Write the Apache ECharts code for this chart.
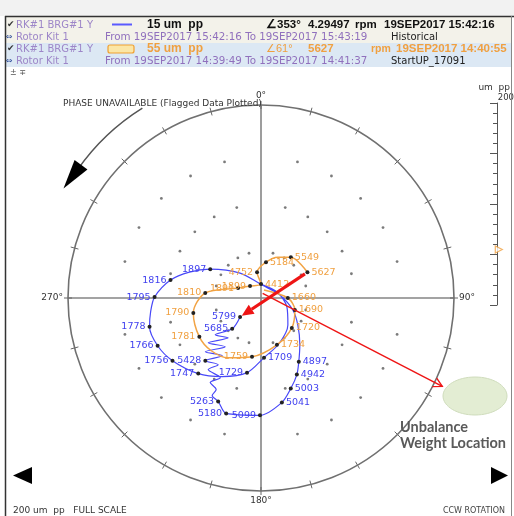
<!DOCTYPE html>
<html><head><meta charset="utf-8">
<script src="https://cdn.jsdelivr.net/npm/echarts@6/dist/echarts.min.js"></script>
<style>html,body{margin:0;padding:0;background:#fff}#c{width:514px;height:516px}</style>
</head><body><div id="c"></div>
<script>
// ---------------- data ----------------
const fullScale = 200;                       // um pp full scale
const angleTicks = [0, 90, 180, 270];
const gridRings = [48, 97, 146];
const gridAngles = [15,30,45,60,75,105,120,135,150,165,195,210,225,240,255,285,300,315,330,345];

// Historical (blue): amplitude um pp, phase deg, rpm label
const blueAmp   = [29.2,43.7,60.9,53.5,71.7,62.7,80.2,72.1,86.9,82.1,92.2,92.7,102.2,105.6,113.0,116.0,124.9,121.6,110.4,98.8,87.6,76.7,63.0,47.2,35.2,19.8,12.5,14.4,33.7,60.5,78.9,95.6,110.3,115.3,119.3,118.0,112.4,101.8,90.8,78.7,61.9,50.9,39.4,28.4,17.6,15];
const bluePhase = [227.9,223.1,231.2,219.5,229.7,216.3,226.0,213.9,221.6,212.7,216.4,207.1,211.0,206.1,206.6,202.5,196.8,180.5,168.7,161.8,154.9,149.3,140.3,126.1,110.6,81.0,24.4,358,320,299.6,289.9,281.2,270.5,262.8,255.5,245.2,234.7,219.7,206.3,190.6,177.1,158.6,135.0,109.1,69.4,353];
const blueRpm   = ['5799','5685','','','','','','','5428','','','','','','','5263','5180','5099','5041','5003','4942','4897','','','','','','','','1897','','1816','1795','','1778','1766','1756','1747','','1729','1709','','','','',''];

// StartUP (orange)
const orangeAmp   = [8.8,27.8,37.2,44.5,51.2,61.5,70.6,75.1,75.5,71.8,58.0,25.9,16.8,14.4,27.1,37.5,45.8,52.4,55];
const orangePhase = [20.6,90,109.4,134.1,161.2,188.7,208.8,223.3,237.8,257.6,275.1,293.5,317.5,0,351.3,7.9,22.5,36.2,61];
const orangeRpm   = ['','1660','1690','1720','1734','1759','','','1781','1790','1810','1891','1899','4412','4752','5184','','5549','5627'];

// annotation: unbalance direction (um, deg)
const unbalanceFrom = [5, 20];
const unbalanceTo   = [209, 116];

// ---------------- chart ----------------
const chart = echarts.init(document.getElementById('c'), null, {width:514, height:516});
const BLUE = '#4848f8', ORANGE = '#f2a445';
const FONT = 'DejaVu Sans';
const BFONT = 'Liberation Sans';

function pts(amp, ph, rpm, color) {
  return amp.map((a, i) => {
    const lab = rpm[i];
    const left = ph[i] > 178 && ph[i] < 359;
    return {
      value: [a, ph[i]],
      symbol: lab ? 'circle' : 'none',
      symbolSize: lab ? 4 : 0,
      label: {show: !!lab, formatter: lab, position: left ? 'left' : 'right', distance: 2,
              color: color, fontSize: 9.5, fontFamily: FONT}
    };
  });
}
const gridDots = [];
gridRings.forEach(r => gridAngles.forEach(a => gridDots.push([r, a])));

const polarCommon = {center: [261, 298], radius: 193};
const radiusCommon = {type: 'value', min: 0, max: fullScale, axisLine: {show: false}, axisTick: {show: false},
  axisLabel: {show: false}, splitLine: {show: false}};

chart.setOption({
  animation: false,
  polar: [Object.assign({}, polarCommon), Object.assign({}, polarCommon)],
  angleAxis: [{
    polarIndex: 0, type: 'value', min: 0, max: 360, interval: 90, startAngle: 90, clockwise: true,
    axisLine: {show: true, lineStyle: {color: '#707070', width: 1.6}},
    axisTick: {show: true, length: 4, lineStyle: {color: '#666'}},
    minorTick: {show: true, splitNumber: 6, length: 4, lineStyle: {color: '#666', width: 1}},
    axisLabel: {show: true, margin: 5, color: '#333', fontSize: 9, fontFamily: FONT,
      formatter: v => (angleTicks.indexOf(v) >= 0 ? v + '°' : '')},
    splitLine: {show: true, lineStyle: {color: '#858585', width: 1.6}}
  }, {
    polarIndex: 1, type: 'value', min: 0, max: 360, interval: 90, startAngle: 90, clockwise: true,
    axisLine: {show: false},
    axisTick: {show: true, inside: true, length: 4, lineStyle: {color: '#666'}},
    minorTick: {show: true, splitNumber: 6, length: 4, lineStyle: {color: '#666', width: 1}},
    axisLabel: {show: false}, splitLine: {show: false}
  }],
  radiusAxis: [Object.assign({polarIndex: 0}, radiusCommon), Object.assign({polarIndex: 1}, radiusCommon)],
  grid: {left: 497, top: 103, width: 12, height: 202},
  xAxis: {type: 'value', min: 0, max: 1, show: false},
  yAxis: {type: 'value', min: 0, max: fullScale, interval: 50, position: 'right',
    axisLine: {show: true, lineStyle: {color: '#555'}},
    axisTick: {show: true, inside: true, length: 7, lineStyle: {color: '#555'}},
    minorTick: {show: true, splitNumber: 5, length: 4, lineStyle: {color: '#555'}},
    axisLabel: {show: false}, splitLine: {show: false}},
  series: [
    {type: 'scatter', coordinateSystem: 'polar', polarIndex: 0, data: gridDots, symbolSize: 2.8,
     itemStyle: {color: '#5a5a5a'}, silent: true, z: 1},
    {type: 'line', coordinateSystem: 'polar', polarIndex: 0, data: pts(blueAmp, bluePhase, blueRpm, '#3f3fef'),
     smooth: 0.3, lineStyle: {color: BLUE, width: 1.2}, itemStyle: {color: '#222'}, z: 3},
    {type: 'line', coordinateSystem: 'polar', polarIndex: 0, data: pts(orangeAmp, orangePhase, orangeRpm, '#f0a040'),
     smooth: 0.3, lineStyle: {color: ORANGE, width: 1.5}, itemStyle: {color: '#222'}, z: 4},
    {type: 'scatter', xAxisIndex: 0, yAxisIndex: 0, data: [[0.15, orangeAmp[orangeAmp.length - 1]]],
     symbol: 'triangle', symbolRotate: -90, symbolSize: 7,
     itemStyle: {color: '#fff', borderColor: '#f0a040', borderWidth: 1.2}}
  ]
});

// ---------------- overlays ----------------
const px = d => chart.convertToPixel({seriesIndex: 0}, d);
const C = px([0, 0]);
const S = (px([fullScale, 90])[0] - C[0]) / fullScale;
const polar2px = (r, a) => [C[0] + r * S * Math.sin(a * Math.PI / 180), C[1] - r * S * Math.cos(a * Math.PI / 180)];

function T(x, y, text, font, fill, align) {
  return {type: 'text', x: x, y: y, z: 50, silent: true,
    style: {text: text, font: font, fill: fill, align: align || 'left', verticalAlign: 'middle',
            textAlign: align || 'left', textVerticalAlign: 'middle'}};
}
function arrowHead(p1, p2, len, ang) {
  const d = Math.atan2(p2[1] - p1[1], p2[0] - p1[0]);
  return [[p2[0] - len * Math.cos(d - ang), p2[1] - len * Math.sin(d - ang)], p2,
          [p2[0] - len * Math.cos(d + ang), p2[1] - len * Math.sin(d + ang)]];
}

const G = [];
// header backgrounds and frame
G.push({type: 'rect', shape: {x: 0, y: 0, width: 514, height: 16}, style: {fill: '#f2f2f2'}, z: 0});
G.push({type: 'rect', shape: {x: 6, y: 17, width: 506, height: 26}, style: {fill: '#f3f2ea'}, z: 0});
G.push({type: 'rect', shape: {x: 6, y: 43, width: 506, height: 24}, style: {fill: '#dce8f4'}, z: 0});
G.push({type: 'line', shape: {x1: 5, y1: 16.5, x2: 514, y2: 16.5}, style: {stroke: '#333', lineWidth: 1.5}, z: 60});
G.push({type: 'line', shape: {x1: 5.5, y1: 16, x2: 5.5, y2: 516}, style: {stroke: '#333', lineWidth: 1.5}, z: 60});
G.push({type: 'line', shape: {x1: 511.5, y1: 16, x2: 511.5, y2: 516}, style: {stroke: '#888', lineWidth: 1}, z: 60});

const PUR = '#9d86c8', PUR2 = '#9070bd';
const f10 = '10px "' + FONT + '"';
const b11 = 'bold 11.5px "' + BFONT + '"';
// row 1
G.push(T(7, 25, '✔', '9px "' + FONT + '"', '#333'));
G.push(T(16, 25, 'RK#1 BRG#1 Y', f10, PUR));
G.push({type: 'line', shape: {x1: 112, y1: 24.5, x2: 132, y2: 24.5}, style: {stroke: '#5a5aff', lineWidth: 2}, z: 50});
G.push(T(147, 25, '15 um  pp', 'bold 12px "' + BFONT + '"', '#111'));
G.push(T(266, 25, '∠353°', b11, '#111'));
G.push(T(308, 25, '4.29497', b11, '#111'));
G.push(T(355, 25, 'rpm', b11, '#111'));
G.push(T(384, 25, '19SEP2017 15:42:16', b11, '#111'));
// row 2
G.push(T(6, 37, '⇔', '8px "' + FONT + '"', '#2a4a9a'));
G.push(T(16, 37, 'Rotor Kit 1', f10, PUR));
G.push(T(105, 37, 'From 19SEP2017 15:42:16 To 19SEP2017 15:43:19', '10.3px "' + FONT + '"', PUR2));
G.push(T(391, 37, 'Historical', f10, '#222'));
// row 3
G.push(T(7, 49, '✔', '9px "' + FONT + '"', '#333'));
G.push(T(16, 49, 'RK#1 BRG#1 Y', f10, PUR));
G.push({type: 'rect', shape: {x: 108, y: 45, width: 26, height: 8, r: 2}, style: {fill: '#fbe6a6', stroke: '#f0a030', lineWidth: 1.2}, z: 50});
G.push(T(147, 49, '55 um  pp', 'bold 12px "' + BFONT + '"', '#f0a040'));
G.push(T(266, 49, '∠61°', '11px "' + BFONT + '"', '#f0a040'));
G.push(T(308, 49, '5627', b11, '#f0a040'));
G.push(T(371, 49, 'rpm', 'bold 10.5px "' + BFONT + '"', '#f0a040'));
G.push(T(396, 49, '19SEP2017 14:40:55', b11, '#f0a040'));
// row 4
G.push(T(6, 61, '⇔', '8px "' + FONT + '"', '#2a4a9a'));
G.push(T(16, 61, 'Rotor Kit 1', f10, PUR));
G.push(T(105, 61, 'From 19SEP2017 14:39:49 To 19SEP2017 14:41:37', '10.3px "' + FONT + '"', PUR2));
G.push(T(391, 61, 'StartUP_17091', f10, '#222'));
G.push(T(10, 73, '± ∓', '8px "' + FONT + '"', '#555'));

// plot texts
G.push(T(63, 104, 'PHASE UNAVAILABLE (Flagged Data Plotted)', '9px "' + FONT + '"', '#333'));
G.push(T(510, 88, 'um  pp', '9px "' + FONT + '"', '#333', 'right'));
G.push(T(514, 98, '200', '8.5px "' + FONT + '"', '#333', 'right'));
G.push(T(13, 511, '200 um  pp   FULL SCALE', '9px "' + FONT + '"', '#333'));
G.push(T(505, 511, 'CCW ROTATION', '8px "' + FONT + '"', '#444', 'right'));
G.push(T(400, 427, 'Unbalance', 'bold 14.5px Lato', '#5a5a5a'));
G.push(T(400, 443, 'Weight Location', 'bold 14.5px Lato', '#5a5a5a'));

// ellipse
G.push({type: 'ellipse', shape: {cx: 475, cy: 396, rx: 32, ry: 19}, style: {fill: '#e3edd3', stroke: '#cfdcbc', lineWidth: 1}, z: 40});

// bottom triangles
G.push({type: 'polygon', shape: {points: [[13, 475.5], [32, 467], [32, 484]]}, style: {fill: '#000'}, z: 50});
G.push({type: 'polygon', shape: {points: [[508, 475.5], [491, 467], [491, 484]]}, style: {fill: '#000'}, z: 50});

// rotation arc arrow (outside the plot)
const arcR = 232 * S;
G.push({type: 'arc', shape: {cx: C[0], cy: C[1], r: arcR, startAngle: (305 - 90) * Math.PI / 180, endAngle: (328 - 90) * Math.PI / 180, clockwise: true},
        style: {stroke: '#555', lineWidth: 1.5, fill: 'none'}, z: 45});
{
  const tip = polar2px(234, 299);
  const bc = polar2px(232, 306.5);
  const ux = (bc[0] - C[0]) / (232 * S), uy = (bc[1] - C[1]) / (232 * S);
  G.push({type: 'polygon', shape: {points: [tip, [bc[0] + 8 * ux, bc[1] + 8 * uy], [bc[0] - 8 * ux, bc[1] - 8 * uy]]},
          style: {fill: '#000'}, z: 46});
}

// thick red arrow: from current startup vector to the first historical point
{
  const p1 = px([orangeAmp[orangeAmp.length - 1], orangePhase[orangePhase.length - 1]]);
  const p0 = px([blueAmp[0], bluePhase[0]]);
  const d = Math.atan2(p0[1] - p1[1], p0[0] - p1[0]);
  const p2 = [p0[0] - 2 * Math.cos(d), p0[1] - 2 * Math.sin(d)];
  const start = [p1[0] + 3 * Math.cos(d), p1[1] + 3 * Math.sin(d)];
  const head = arrowHead(start, p2, 13, 0.42);
  const base = [(head[0][0] + head[2][0]) / 2, (head[0][1] + head[2][1]) / 2];
  G.push({type: 'line', shape: {x1: start[0], y1: start[1], x2: base[0], y2: base[1]}, style: {stroke: '#ee1515', lineWidth: 3.2}, z: 70});
  G.push({type: 'polygon', shape: {points: head}, style: {fill: '#ee1515'}, z: 70});
}
// thin red arrow to unbalance weight location
{
  const a = px(unbalanceFrom), b = px(unbalanceTo);
  G.push({type: 'line', shape: {x1: a[0], y1: a[1], x2: b[0], y2: b[1]}, style: {stroke: '#ee1515', lineWidth: 1.4}, z: 70});
  G.push({type: 'polyline', shape: {points: arrowHead(a, b, 10, 0.5)}, style: {stroke: '#ee1515', lineWidth: 1.4, fill: 'none'}, z: 70});
}

chart.setOption({graphic: G});
</script></body></html>
